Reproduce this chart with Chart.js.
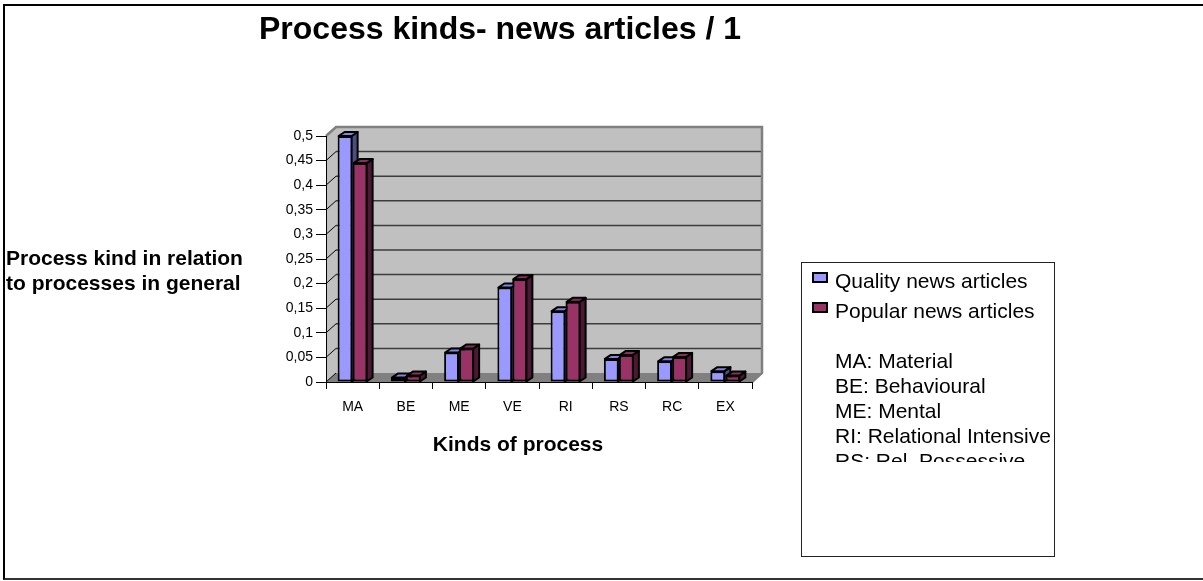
<!DOCTYPE html>
<html><head><meta charset="utf-8">
<script src="https://cdn.jsdelivr.net/npm/chart.js@4/dist/chart.umd.min.js"></script>
<style>
html,body{margin:0;padding:0;background:#fff;width:1203px;height:581px;overflow:hidden;font-family:"Liberation Sans",Arial,sans-serif;}
#wrap{position:relative;width:1203px;height:581px;overflow:hidden;}
#frame{position:absolute;left:3px;top:4px;width:1230px;height:572px;border-left:2px solid #000;border-top:2px solid #000;border-bottom:2px solid #333;}
canvas{position:absolute;left:0;top:0;}
.t{position:absolute;white-space:nowrap;color:#000;}
#title{left:259px;top:10px;font-size:32px;line-height:36px;font-weight:bold;}
#ytitle{left:6px;top:245px;font-size:21px;line-height:25px;font-weight:bold;}
#xtitle{left:418px;top:431px;width:200px;text-align:center;font-size:21px;line-height:25px;font-weight:bold;}
#legend{position:absolute;left:801px;top:262px;width:254px;height:295px;box-sizing:border-box;border:1px solid #222;background:#fff;}
.mk{position:absolute;width:16px;height:11px;box-sizing:border-box;border:2px solid #000;}
.lt{position:absolute;font-size:21px;line-height:25px;white-space:nowrap;}
#notes{position:absolute;left:835px;top:348px;width:240px;height:114px;overflow:hidden;font-size:21px;line-height:25px;}
</style></head>
<body><div id="wrap">
<div id="frame"></div>
<canvas id="c" width="1203" height="581"></canvas>
<div class="t" id="title">Process kinds- news articles / 1</div>
<div class="t" id="ytitle">Process kind in relation<br>to processes in general</div>
<div class="t" id="xtitle">Kinds of process</div>
<div id="legend"></div>
<div id="notes"></div>
</div>
<script>
const categories = ['MA','BE','ME','VE','RI','RS','RC','EX'];
const qualityValues = [0.5, 0.009, 0.06, 0.192, 0.144, 0.047, 0.042, 0.022];
const popularValues = [0.445, 0.013, 0.068, 0.209, 0.163, 0.055, 0.051, 0.013];
const seriesNames = ['Quality news articles', 'Popular news articles'];
const yTickLabels = ['0','0,05','0,1','0,15','0,2','0,25','0,3','0,35','0,4','0,45','0,5'];
const legendNotes = ['MA: Material','BE: Behavioural','ME: Mental','RI: Relational Intensive','RS: Rel. Possessive'];

const FRONT = ['#9999FF', '#993366'];
const TOP = ['#8585E0', '#8A2E5C'];
const SIDE = ['#4C4C80', '#4C1933'];

// legend (HTML)
(function(){
  const wrap = document.getElementById('wrap');
  const tops = [268, 298];
  const mtops = [272, 302];
  seriesNames.forEach((n, i) => {
    const m = document.createElement('div');
    m.className = 'mk'; m.style.left = '812px'; m.style.top = mtops[i] + 'px'; m.style.background = FRONT[i];
    wrap.appendChild(m);
    const t = document.createElement('div');
    t.className = 'lt'; t.style.left = '835px'; t.style.top = tops[i] + 'px'; t.textContent = n;
    wrap.appendChild(t);
  });
  const notes = document.getElementById('notes');
  legendNotes.forEach(s => { const d = document.createElement('div'); d.textContent = s; d.style.whiteSpace='nowrap'; notes.appendChild(d); });
})();

const DX = 10, DY = 9, BDX = 6, BDY = 4;
function poly(ctx, pts){ ctx.beginPath(); ctx.moveTo(pts[0][0], pts[0][1]); for (let i=1;i<pts.length;i++) ctx.lineTo(pts[i][0], pts[i][1]); ctx.closePath(); }

const wallPlugin = {
  id: 'wall3d',
  beforeDraw(chart){
    const ctx = chart.ctx, a = chart.chartArea, y = chart.scales.y;
    const L = a.left, R = a.right, T = y.getPixelForValue(y.max), B = y.getPixelForValue(0);
    ctx.save();
    ctx.fillStyle = '#C0C0C0';
    ctx.fillRect(L + DX, T - DY, R - L, B - T);
    poly(ctx, [[L,T],[L+DX,T-DY],[L+DX,B-DY],[L,B]]); ctx.fill();
    ctx.fillStyle = '#808080';
    poly(ctx, [[L,B],[L+DX,B-DY],[R+DX,B-DY],[R,B]]); ctx.fill();
    y.ticks.forEach(tk => {
      const v = tk.value;
      if (v <= 0 || v >= y.max - 1e-9) return;
      const py = y.getPixelForValue(v);
      ctx.strokeStyle = '#3c3c3c'; ctx.lineWidth = 1.5;
      ctx.beginPath(); ctx.moveTo(L + DX, py - DY); ctx.lineTo(R + DX, py - DY); ctx.stroke();
      ctx.strokeStyle = '#000'; ctx.lineWidth = 1;
      ctx.beginPath(); ctx.moveTo(L, py); ctx.lineTo(L + DX, py - DY); ctx.stroke();
    });
    ctx.strokeStyle = '#808080'; ctx.lineWidth = 2.5;
    ctx.beginPath();
    ctx.moveTo(L, T); ctx.lineTo(L + DX, T - DY); ctx.lineTo(R + DX, T - DY); ctx.lineTo(R + DX, B - DY); ctx.lineTo(R, B);
    ctx.stroke();
    ctx.strokeStyle = '#000'; ctx.lineWidth = 1;
    ctx.beginPath(); ctx.moveTo(L, B); ctx.lineTo(L + DX, B - DY); ctx.stroke();
    ctx.restore();
  },
  afterDatasetsDraw(chart){
    const ctx = chart.ctx;
    const m0 = chart.getDatasetMeta(0), m1 = chart.getDatasetMeta(1);
    function faces(el, k){
      const p = el.getProps(['x','y','base','width'], true);
      const l = p.x - p.width/2 + 1, r = p.x + p.width/2 - 1, yy = p.y, b = p.base;
      ctx.save();
      ctx.lineWidth = 2; ctx.strokeStyle = '#000'; ctx.lineJoin = 'round';
      ctx.fillStyle = SIDE[k];
      poly(ctx, [[r,yy],[r+BDX,yy-BDY],[r+BDX,b-BDY],[r,b]]); ctx.fill(); ctx.stroke();
      ctx.fillStyle = TOP[k];
      poly(ctx, [[l,yy],[l+BDX,yy-BDY],[r+BDX,yy-BDY],[r,yy]]); ctx.fill(); ctx.stroke();
      ctx.restore();
    }
    for (let i = 0; i < categories.length; i++){
      faces(m0.data[i], 0);
      m1.data[i].draw(ctx);
      faces(m1.data[i], 1);
    }
  }
};

Chart.defaults.font.family = '"Liberation Sans", Arial, sans-serif';
Chart.defaults.color = '#000';

new Chart(document.getElementById('c'), {
  type: 'bar',
  data: {
    labels: categories,
    datasets: [
      { label: seriesNames[0], data: qualityValues, backgroundColor: FRONT[0], borderColor: '#000', borderWidth: 2, borderSkipped: false },
      { label: seriesNames[1], data: popularValues, backgroundColor: FRONT[1], borderColor: '#000', borderWidth: 2, borderSkipped: false }
    ]
  },
  options: {
    responsive: false,
    devicePixelRatio: 1,
    animation: false,
    layout: { padding: { left: 0, right: 451, top: 136, bottom: 0 } },
    datasets: { bar: { categoryPercentage: 0.5634, barPercentage: 1 } },
    plugins: { legend: { display: false }, tooltip: { enabled: false }, title: { display: false } },
    scales: {
      x: {
        offset: true,
        grid: { offset: true, drawOnChartArea: false, drawTicks: true, tickLength: 7, color: '#000', lineWidth: 1 },
        border: { display: true, color: '#000', width: 1 },
        ticks: { font: { size: 14 }, color: '#000', padding: 10, maxRotation: 0 },
        afterFit(s){ s.height = 199; }
      },
      y: {
        min: 0, max: 0.5,
        grid: { drawOnChartArea: false, drawTicks: true, tickLength: 10, color: '#000', lineWidth: 1 },
        border: { display: true, color: '#000', width: 1 },
        ticks: { stepSize: 0.05, font: { size: 14 }, color: '#000', padding: 3,
          callback: (v) => yTickLabels[Math.round(v / 0.05)] },
        afterFit(s){ s.width = 326; }
      }
    }
  },
  plugins: [wallPlugin]
});
</script>
</body></html>
